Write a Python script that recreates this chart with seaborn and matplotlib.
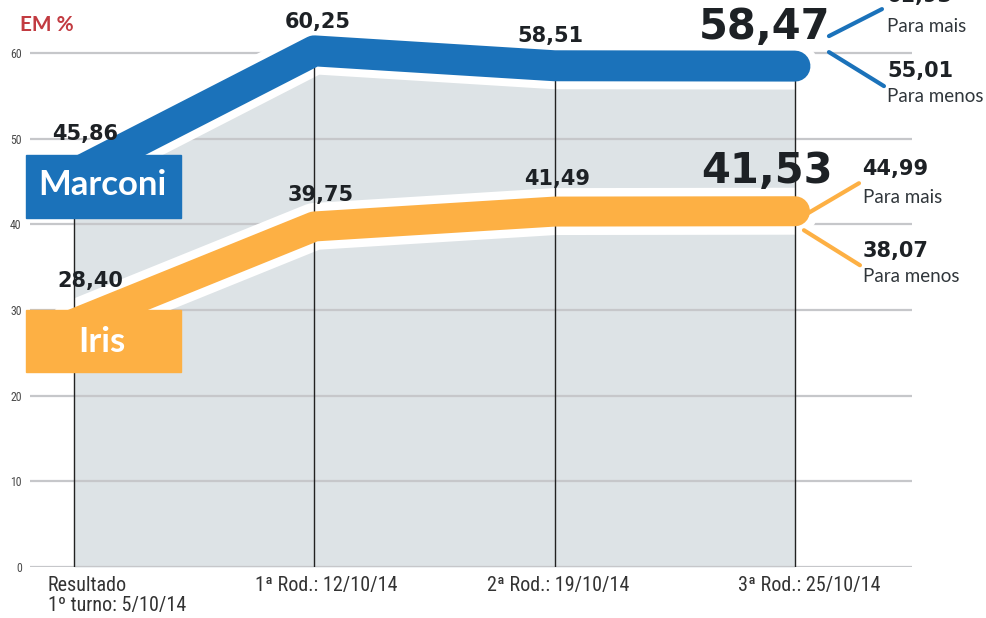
import numpy as np
import pandas as pd
import seaborn as sns
import matplotlib.pyplot as plt
from matplotlib.patches import Rectangle

# data
rodadas = ['Resultado\n1º turno: 5/10/14', '1ª Rod.: 12/10/14', '2ª Rod.: 19/10/14', '3ª Rod.: 25/10/14']
marconi = [45.86, 60.25, 58.51, 58.47]
iris = [28.40, 39.75, 41.49, 41.53]
marconi_labels = ['45,86', '60,25', '58,51', '58,47']
iris_labels = ['28,40', '39,75', '41,49', '41,53']
marconi_range = ['61,93', '55,01']
iris_range = ['44,99', '38,07']
y_ticks = [0, 10, 20, 30, 40, 50, 60]

BLUE = '#1b72ba'
ORANGE = '#fdb044'
GREY_FILL = '#dde3e6'
GRID = '#c6c7ca'
DARK = '#1d2125'
NUM_FONT = 'DejaVu Sans'
NAME_FONT = ['Lato', 'DejaVu Sans']
NARROW = ['Roboto Condensed', 'Roboto', 'DejaVu Sans']

sns.set_theme(style='white')

df = pd.DataFrame({'pos': range(len(rodadas)), 'Marconi': marconi, 'Iris': iris})

fig = plt.figure(figsize=(9.87, 6.18), dpi=100)
ax = fig.add_axes([30 / 987, 51 / 618, 882 / 987, 565.4 / 618])
ax.set_xlim(-0.183, 3.487)
ax.set_ylim(0, 66)
for s in ax.spines.values():
    s.set_visible(False)

# grey area under Marconi
ax.fill_between(df['pos'], 0, df['Marconi'], color=GREY_FILL, lw=0, zorder=1)

# gridlines
for t in y_ticks:
    ax.axhline(t, color=GRID, lw=1.6, zorder=1.5)
ax.set_yticks(y_ticks)
ax.set_yticklabels([str(t) for t in y_ticks], fontsize=8.5, color='#4a4a4a', family=NARROW)
ax.tick_params(axis='y', length=0, pad=6)
ax.set_xticks([])

# white outline under the bands
for col in ['Marconi', 'Iris']:
    sns.lineplot(data=df, x='pos', y=col, ax=ax, color='white', linewidth=33.8,
                 solid_capstyle='round', zorder=3, legend=False)

# vertical lines
ax.vlines(df['pos'], 0, df['Marconi'], color='#222222', lw=1, zorder=3.5)

# bands
sns.lineplot(data=df, x='pos', y='Marconi', ax=ax, color=BLUE, linewidth=22.3,
             solid_capstyle='round', zorder=4, legend=False)
sns.lineplot(data=df, x='pos', y='Iris', ax=ax, color=ORANGE, linewidth=21.6,
             solid_capstyle='round', zorder=4, legend=False)
ax.set_xlabel('')
ax.set_ylabel('')

# name boxes
ax.add_patch(Rectangle((-0.2, 40.74), 0.645, 7.35, color=BLUE, zorder=5, clip_on=False))
ax.add_patch(Rectangle((-0.2, 22.76), 0.645, 7.24, color=ORANGE, zorder=5, clip_on=False))
ax.text(0.117, 44.6, 'Marconi', color='white', fontsize=25, fontweight='bold', family=NAME_FONT,
        ha='center', va='center', zorder=6)
ax.text(0.117, 26.3, 'Iris', color='white', fontsize=25, fontweight='bold', family=NAME_FONT,
        ha='center', va='center', zorder=6)

# value labels
m_off = [(11, 40), (3, 29), (-4, 30), (-30, 39)]
i_off = [(16, 43), (6, 31), (2, 33), (-28, 40)]
for i in range(len(rodadas)):
    size = 30 if i == 3 else 15
    ax.annotate(marconi_labels[i], (i, marconi[i]), xytext=m_off[i], textcoords='offset pixels',
                ha='center', va='center', fontsize=size, fontweight='bold', family=NUM_FONT,
                color=DARK, zorder=6)
    ax.annotate(iris_labels[i], (i, iris[i]), xytext=i_off[i], textcoords='offset pixels',
                ha='center', va='center', fontsize=size, fontweight='bold', family=NUM_FONT,
                color=DARK, zorder=6)

# x labels
x_off = [-26, 12, 4, 14]
for i, lab in enumerate(rodadas):
    ax.annotate(lab, (i, 0), xycoords=('data', 'axes fraction'), xytext=(x_off[i], -9),
                textcoords='offset pixels', ha='left' if i == 0 else 'center', va='top',
                fontsize=14.5, family=NARROW, color='#333333', linespacing=1.1)


def offset(x, y, dx, dy):
    px, py = ax.transData.transform((x, y))
    return ax.transData.inverted().transform((px + dx, py + dy))


def slant(x, y, a, b, color):
    p = offset(x, y, *a)
    q = offset(x, y, *b)
    ax.plot([p[0], q[0]], [p[1], q[1]], color=color, lw=3, solid_capstyle='round',
            clip_on=False, zorder=6)


last = len(rodadas) - 1
# Marconi margin
slant(last, marconi[-1], (34, 30), (87, 57), BLUE)
slant(last, marconi[-1], (34, 14), (89, -20), BLUE)
# Iris margin
slant(last, iris[-1], (13, -2), (64, 28), ORANGE)
slant(last, iris[-1], (9, -19), (65, -54), ORANGE)

side = [
    (marconi[-1], marconi_range[0], (92, 70), True),
    (marconi[-1], 'Para mais', (92, 40), False),
    (marconi[-1], marconi_range[1], (92, -5), True),
    (marconi[-1], 'Para menos', (92, -30), False),
    (iris[-1], iris_range[0], (67, 42), True),
    (iris[-1], 'Para mais', (68, 14), False),
    (iris[-1], iris_range[1], (68, -40), True),
    (iris[-1], 'Para menos', (68, -65), False),
]
for v, txt, off, is_num in side:
    if is_num:
        ax.annotate(txt, (last, v), xytext=off, textcoords='offset pixels', ha='left', va='center',
                    fontsize=15, fontweight='bold', family=NUM_FONT, color=DARK, annotation_clip=False)
    else:
        ax.annotate(txt, (last, v), xytext=off, textcoords='offset pixels', ha='left', va='center',
                    fontsize=13.5, family=NAME_FONT, color='#30363b', annotation_clip=False)

fig.text(20 / 987, 1 - 25 / 618, 'EM %', color='#c23b41', fontsize=15, fontweight='bold',
         family=NAME_FONT, ha='left', va='center')

fig.savefig('out.png', dpi=100)
